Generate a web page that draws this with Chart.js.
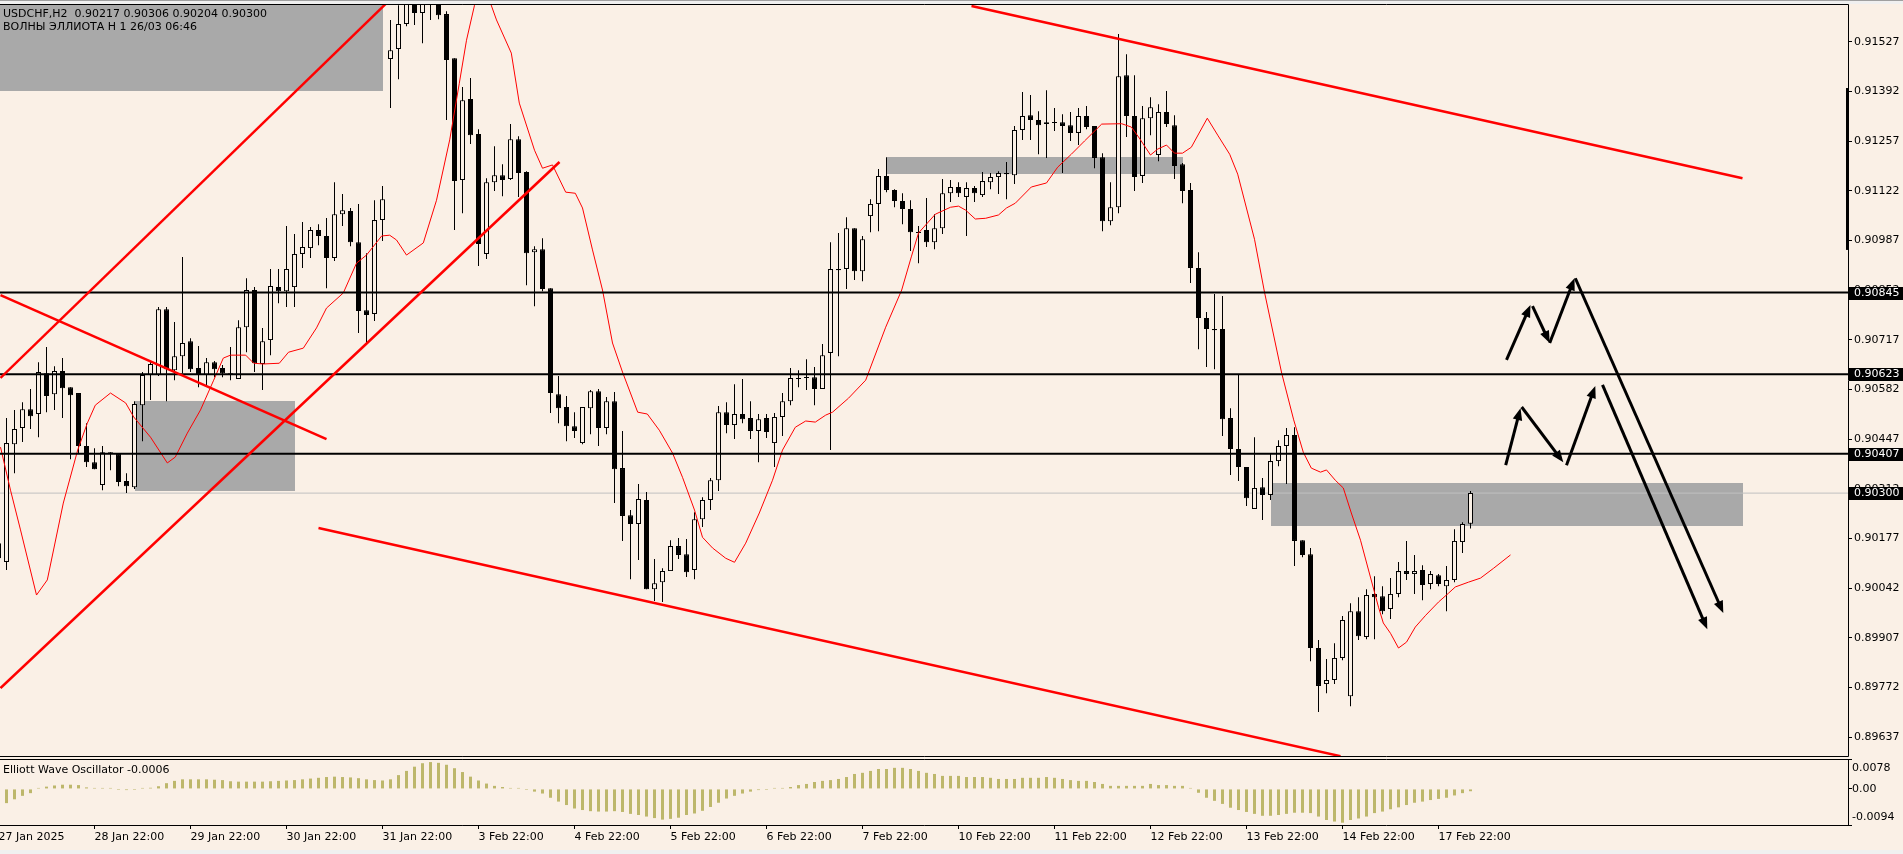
<!DOCTYPE html>
<html>
<head>
<meta charset="utf-8">
<title>USDCHF,H2</title>
<script src="https://cdn.jsdelivr.net/npm/chart.js@4.4.1/dist/chart.umd.min.js"></script>
<style>
  html, body { margin: 0; padding: 0; background: #f0f0f0; overflow: hidden; }
  #wrap { position: relative; width: 1903px; height: 854px; background: #f0f0f0; }
  canvas { position: absolute; left: 0; background: #FAF0E6; }
  #main { top: 0; }
  #osc { top: 758px; }
  #topbar { position: absolute; left: 0; top: 0; width: 1903px; height: 4px; box-sizing: border-box;
            background: #f0f0f0; border-top: 1px solid #a0a0a0; }
</style>
</head>
<body>
<div id="wrap">
  <canvas id="main" width="1903" height="758"></canvas>
  <canvas id="osc" width="1903" height="92"></canvas>
  <div id="topbar"></div>
</div>
<script>
// ---- data ----
const symbol = 'USDCHF,H2';
const subtitle = 'ВОЛНЫ ЭЛЛИОТА H 1 26/03 06:46';
const firstBar = -1; // bar index of the first entry below (27 Jan 22:00)

const openP = [0.90164,
  0.90113, 0.90433, 0.90477, 0.90528, 0.90515, 0.90626, 0.90569, 0.90632, 0.90588, 0.90572,
  0.90428, 0.90384, 0.90322, 0.90411, 0.90406, 0.90333, 0.90316, 0.90539, 0.90621, 0.90621,
  0.90800, 0.90634, 0.90672, 0.90713, 0.90640, 0.90621, 0.90656, 0.90640, 0.90626, 0.90610,
  0.90751, 0.90852, 0.90651, 0.90716, 0.90860, 0.90849, 0.90860, 0.90950, 0.90966, 0.91015,
  0.90999, 0.90939, 0.91058, 0.91067, 0.90982, 0.90797, 0.90787, 0.91042, 0.91480, 0.91507,
  0.91575, 0.91654, 0.91605, 0.91662, 0.91678, 0.91602, 0.91482, 0.91151, 0.91371, 0.91276,
  0.90950, 0.91145, 0.91164, 0.91154, 0.91262, 0.91173, 0.90955, 0.90963, 0.90857, 0.90569,
  0.90534, 0.90482, 0.90436, 0.90531, 0.90577, 0.90477, 0.90550, 0.90368, 0.90240, 0.90216,
  0.90281, 0.90039, 0.90058, 0.90088, 0.90156, 0.90134, 0.90091, 0.90229, 0.90281, 0.90335,
  0.90520, 0.90485, 0.90515, 0.90504, 0.90469, 0.90504, 0.90436, 0.90507, 0.90550, 0.90610,
  0.90613, 0.90615, 0.90583, 0.90681, 0.90909, 0.90909, 0.91020, 0.90903, 0.91053, 0.91086,
  0.91162, 0.91124, 0.91094, 0.91072, 0.91009, 0.91015, 0.90982, 0.91020, 0.91115, 0.91132,
  0.91105, 0.91129, 0.91110, 0.91145, 0.91159, 0.91170, 0.91164, 0.91287, 0.91327, 0.91314,
  0.91303, 0.91306, 0.91308, 0.91300, 0.91279, 0.91325, 0.91298, 0.91213, 0.91039, 0.91077,
  0.91436, 0.91325, 0.91162, 0.91319, 0.91219, 0.91336, 0.91300, 0.91194, 0.91124, 0.90912,
  0.90776, 0.90746, 0.90746, 0.90504, 0.90420, 0.90371, 0.90257, 0.90316, 0.90295, 0.90387,
  0.90428, 0.90458, 0.90172, 0.90134, 0.89879, 0.89781, 0.89792, 0.89852, 0.89748, 0.89979,
  0.89909, 0.90026, 0.90020, 0.89985, 0.90026, 0.90088, 0.90080, 0.90091, 0.90053, 0.90077,
  0.90047, 0.90064, 0.90167, 0.90217];

const highP = [0.90172,
  0.90504, 0.90526, 0.90547, 0.90583, 0.90656, 0.90697, 0.90645, 0.90667, 0.90588, 0.90572,
  0.90490, 0.90422, 0.90428, 0.90411, 0.90406, 0.90354, 0.90550, 0.90629, 0.90659, 0.90806,
  0.90806, 0.90765, 0.90942, 0.90721, 0.90700, 0.90667, 0.90659, 0.90648, 0.90697, 0.90770,
  0.90884, 0.90860, 0.90749, 0.90909, 0.90909, 0.91026, 0.91004, 0.91037, 0.91023, 0.91031,
  0.91048, 0.91145, 0.91113, 0.91075, 0.91086, 0.90952, 0.91096, 0.91135, 0.91586, 0.91626,
  0.91667, 0.91673, 0.91673, 0.91708, 0.91694, 0.91610, 0.91482, 0.91404, 0.91428, 0.91289,
  0.91156, 0.91243, 0.91194, 0.91303, 0.91270, 0.91175, 0.90971, 0.90993, 0.90857, 0.90618,
  0.90564, 0.90520, 0.90534, 0.90580, 0.90583, 0.90561, 0.90575, 0.90469, 0.90254, 0.90325,
  0.90303, 0.90121, 0.90096, 0.90172, 0.90178, 0.90175, 0.90248, 0.90289, 0.90341, 0.90537,
  0.90547, 0.90596, 0.90610, 0.90550, 0.90515, 0.90515, 0.90518, 0.90572, 0.90640, 0.90634,
  0.90664, 0.90643, 0.90705, 0.90982, 0.91007, 0.91050, 0.91020, 0.90999, 0.91099, 0.91181,
  0.91213, 0.91126, 0.91115, 0.91096, 0.91026, 0.91102, 0.91058, 0.91154, 0.91151, 0.91145,
  0.91145, 0.91135, 0.91173, 0.91170, 0.91175, 0.91200, 0.91298, 0.91390, 0.91382, 0.91338,
  0.91395, 0.91347, 0.91330, 0.91336, 0.91347, 0.91352, 0.91298, 0.91224, 0.91145, 0.91548,
  0.91493, 0.91436, 0.91352, 0.91376, 0.91357, 0.91393, 0.91327, 0.91197, 0.91143, 0.90955,
  0.90792, 0.90841, 0.90836, 0.90531, 0.90624, 0.90371, 0.90452, 0.90341, 0.90406, 0.90444,
  0.90477, 0.90479, 0.90172, 0.90151, 0.89901, 0.89849, 0.89892, 0.89966, 0.90001, 0.90017,
  0.90039, 0.90074, 0.90047, 0.90069, 0.90113, 0.90170, 0.90132, 0.90104, 0.90088, 0.90080,
  0.90102, 0.90202, 0.90221, 0.90306];

const lowP = [0.90104,
  0.90091, 0.90354, 0.90439, 0.90474, 0.90452, 0.90520, 0.90526, 0.90504, 0.90392, 0.90409,
  0.90371, 0.90365, 0.90308, 0.90362, 0.90319, 0.90300, 0.90311, 0.90441, 0.90553, 0.90618,
  0.90550, 0.90607, 0.90626, 0.90629, 0.90588, 0.90591, 0.90615, 0.90615, 0.90607, 0.90610,
  0.90683, 0.90629, 0.90580, 0.90675, 0.90816, 0.90806, 0.90806, 0.90912, 0.90939, 0.90974,
  0.90857, 0.90931, 0.91026, 0.90971, 0.90735, 0.90708, 0.90768, 0.90985, 0.91347, 0.91425,
  0.91569, 0.91572, 0.91523, 0.91586, 0.91588, 0.91314, 0.91015, 0.91061, 0.91249, 0.90917,
  0.90936, 0.91121, 0.91107, 0.91151, 0.91105, 0.90865, 0.90808, 0.90849, 0.90518, 0.90490,
  0.90441, 0.90450, 0.90433, 0.90460, 0.90428, 0.90460, 0.90273, 0.90170, 0.90066, 0.90118,
  0.90039, 0.90007, 0.90004, 0.90088, 0.90121, 0.90072, 0.90066, 0.90208, 0.90254, 0.90306,
  0.90463, 0.90447, 0.90490, 0.90447, 0.90384, 0.90450, 0.90371, 0.90455, 0.90539, 0.90588,
  0.90580, 0.90539, 0.90583, 0.90417, 0.90672, 0.90855, 0.90879, 0.90876, 0.91009, 0.91012,
  0.91118, 0.91077, 0.91031, 0.90958, 0.90925, 0.90969, 0.90963, 0.91004, 0.91091, 0.91105,
  0.90999, 0.91091, 0.91105, 0.91126, 0.91113, 0.91099, 0.91140, 0.91260, 0.91260, 0.91221,
  0.91211, 0.91284, 0.91170, 0.91257, 0.91246, 0.91289, 0.91183, 0.91012, 0.91028, 0.91061,
  0.91268, 0.91121, 0.91143, 0.91273, 0.91202, 0.91295, 0.91154, 0.91088, 0.90871, 0.90691,
  0.90643, 0.90637, 0.90455, 0.90349, 0.90333, 0.90265, 0.90257, 0.90227, 0.90281, 0.90373,
  0.90325, 0.90102, 0.90126, 0.89843, 0.89705, 0.89756, 0.89781, 0.89846, 0.89721, 0.89901,
  0.89903, 0.89903, 0.89971, 0.89958, 0.90017, 0.90064, 0.90026, 0.90009, 0.90039, 0.90047,
  0.89979, 0.90058, 0.90137, 0.90204];

const closeP = [0.90123,
  0.90436, 0.90474, 0.90528, 0.90509, 0.90629, 0.90564, 0.90632, 0.90585, 0.90566, 0.90428,
  0.90384, 0.90365, 0.90411, 0.90406, 0.90330, 0.90319, 0.90542, 0.90621, 0.90651, 0.90800,
  0.90637, 0.90672, 0.90708, 0.90637, 0.90621, 0.90656, 0.90637, 0.90626, 0.90623, 0.90751,
  0.90852, 0.90653, 0.90713, 0.90863, 0.90849, 0.90909, 0.90950, 0.90969, 0.91015, 0.90999,
  0.90939, 0.91058, 0.91069, 0.90982, 0.90795, 0.90784, 0.91042, 0.91099, 0.91504, 0.91575,
  0.91654, 0.91605, 0.91662, 0.91681, 0.91599, 0.91477, 0.91148, 0.91368, 0.91273, 0.90977,
  0.91145, 0.91164, 0.91151, 0.91262, 0.91170, 0.90952, 0.90963, 0.90855, 0.90572, 0.90531,
  0.90482, 0.90469, 0.90534, 0.90577, 0.90477, 0.90550, 0.90365, 0.90238, 0.90216, 0.90284,
  0.90039, 0.90055, 0.90088, 0.90156, 0.90132, 0.90085, 0.90229, 0.90281, 0.90335, 0.90520,
  0.90485, 0.90515, 0.90501, 0.90469, 0.90501, 0.90466, 0.90507, 0.90550, 0.90613, 0.90613,
  0.90615, 0.90583, 0.90675, 0.90909, 0.90906, 0.91020, 0.90903, 0.90990, 0.91086, 0.91162,
  0.91124, 0.91094, 0.91072, 0.91009, 0.91007, 0.90982, 0.91020, 0.91115, 0.91132, 0.91115,
  0.91129, 0.91115, 0.91148, 0.91159, 0.91170, 0.91167, 0.91287, 0.91325, 0.91314, 0.91300,
  0.91308, 0.91308, 0.91298, 0.91279, 0.91325, 0.91295, 0.91211, 0.91039, 0.91077, 0.91433,
  0.91325, 0.91159, 0.91319, 0.91349, 0.91336, 0.91303, 0.91189, 0.91121, 0.90912, 0.90776,
  0.90746, 0.90743, 0.90501, 0.90420, 0.90371, 0.90286, 0.90314, 0.90295, 0.90387, 0.90428,
  0.90458, 0.90170, 0.90132, 0.89879, 0.89776, 0.89792, 0.89852, 0.89955, 0.89979, 0.89911,
  0.90023, 0.90017, 0.89979, 0.90026, 0.90088, 0.90080, 0.90088, 0.90050, 0.90080, 0.90053,
  0.90064, 0.90170, 0.90216, 0.90300];

// thin red moving average (shifted forward), sampled along its path
const maBar = [-0.75, 0.5, 1.75, 3.75, 5.1, 7.1, 8.9, 10.1, 11.1, 13, 14.9, 15.9, 18, 20.1, 21.1, 22.6,
  24.25, 25.9, 27.1, 28, 29.9, 30.9, 32.1, 34.1, 35.25, 37.1, 38.75, 40, 42.1, 43.75, 45, 46.9, 47.9,
  48.75, 50, 52.1, 53.75, 55.4, 56.6, 57.5, 58.5, 60, 61.25, 63.1, 64.1, 66, 67, 68.25, 69.9, 71.1, 72,
  73.25, 74.5, 75.75, 77, 78.9, 80.1, 81.6, 83.25, 84.5, 86, 87, 88.25, 89.9, 91, 92.4, 94.1, 95.75, 97,
  98.6, 99.9, 101.1, 102.4, 103.25, 105.25, 107.4, 109.9, 111.9, 113.1, 114, 116.1, 118, 119, 119.9,
  121.1, 122.4, 124, 125, 126.1, 128.1, 130, 131.4, 133.1, 134.75, 136.9, 139.4, 140.6, 141.6, 143,
  143.9, 145, 146, 147, 148.1, 150.1, 151.4, 152.9, 153.9, 156, 157.25, 159.4, 160.9, 162.1, 163.1,
  164.25, 165, 166.1, 167.1, 168.1, 169.25, 170.25, 171.5, 172.1, 173, 174, 175, 176.1, 177.4, 179,
  180.25, 181.1, 182.75, 184.25, 185.9, 188];
const maPrice = [0.90425, 0.90308, 0.90200, 0.90023, 0.90064, 0.90273, 0.90417, 0.90490, 0.90539,
  0.90572, 0.90545, 0.90507, 0.90452, 0.90382, 0.90398, 0.90463, 0.90526, 0.90607, 0.90667, 0.90675,
  0.90675, 0.90653, 0.90651, 0.90653, 0.90683, 0.90694, 0.90749, 0.90803, 0.90844, 0.90925, 0.90947,
  0.90999, 0.91001, 0.90988, 0.90947, 0.90980, 0.91096, 0.91260, 0.91414, 0.91531, 0.91626, 0.91662,
  0.91586, 0.91496, 0.91360, 0.91232, 0.91183, 0.91192, 0.91118, 0.91115, 0.91075, 0.90961, 0.90852,
  0.90708, 0.90629, 0.90520, 0.90515, 0.90471, 0.90409, 0.90343, 0.90254, 0.90180, 0.90151, 0.90123,
  0.90112, 0.90164, 0.90246, 0.90335, 0.90417, 0.90479, 0.90496, 0.90493, 0.90512, 0.90520, 0.90558,
  0.90607, 0.90751, 0.90852, 0.90942, 0.91007, 0.91058, 0.91077, 0.91080, 0.91069, 0.91045, 0.91047,
  0.91056, 0.91075, 0.91088, 0.91132, 0.91143, 0.91186, 0.91221, 0.91257, 0.91303, 0.91304, 0.91295,
  0.91265, 0.91219, 0.91235, 0.91246, 0.91224, 0.91224, 0.91240, 0.91319, 0.91273, 0.91221, 0.91167,
  0.90990, 0.90846, 0.90626, 0.90499, 0.90411, 0.90368, 0.90357, 0.90363, 0.90335, 0.90314, 0.90246,
  0.90172, 0.90091, 0.89990, 0.89947, 0.89919, 0.89879, 0.89895, 0.89936, 0.89968, 0.90004, 0.90028,
  0.90045, 0.90058, 0.90069, 0.90096, 0.90132];

// Elliott Wave Oscillator histogram, bars 0..183
const ewo = [
  -0.0037, -0.0027, -0.0018, -0.0011, 0.0001, 0.0006, 0.0009, 0.0011, 0.0011, 0.0010,
  0.0004, 0.0002, 0.0001, 0.0001, -0.0002, -0.0003, -0.0002, 0.0001, 0.0003, 0.0007,
  0.0015, 0.0021, 0.0025, 0.0025, 0.0025, 0.0025, 0.0024, 0.0023, 0.0020, 0.0019,
  0.0019, 0.0019, 0.0019, 0.0020, 0.0021, 0.0022, 0.0023, 0.0025, 0.0027, 0.0029,
  0.0031, 0.0032, 0.0031, 0.0030, 0.0028, 0.0025, 0.0023, 0.0022, 0.0025, 0.0036,
  0.0047, 0.0058, 0.0067, 0.0070, 0.0068, 0.0063, 0.0054, 0.0044, 0.0032, 0.0022,
  0.0014, 0.0008, 0.0005, 0.0002, 0.0001, -0.0001, -0.0007, -0.0012, -0.0023, -0.0033,
  -0.0042, -0.0051, -0.0055, -0.0058, -0.0059, -0.0059, -0.0058, -0.0060, -0.0065, -0.0068,
  -0.0072, -0.0076, -0.0080, -0.0078, -0.0075, -0.0068, -0.0064, -0.0057, -0.0047, -0.0036,
  -0.0025, -0.0018, -0.0012, -0.0007, -0.0003, -0.0001, 0.0001, 0.0001, 0.0005, 0.0010,
  0.0013, 0.0018, 0.0021, 0.0023, 0.0026, 0.0031, 0.0039, 0.0042, 0.0047, 0.0052,
  0.0052, 0.0055, 0.0055, 0.0052, 0.0047, 0.0042, 0.0039, 0.0034, 0.0034, 0.0034,
  0.0031, 0.0031, 0.0031, 0.0029, 0.0026, 0.0026, 0.0026, 0.0029, 0.0029, 0.0029,
  0.0031, 0.0029, 0.0026, 0.0023, 0.0021, 0.0021, 0.0018, 0.0013, 0.0008, 0.0008,
  0.0008, 0.0008, 0.0008, 0.0013, 0.0010, 0.0010, 0.0008, 0.0008, 0.0001, -0.0010,
  -0.0023, -0.0031, -0.0039, -0.0049, -0.0055, -0.0060, -0.0065, -0.0070, -0.0070, -0.0068,
  -0.0065, -0.0062, -0.0062, -0.0063, -0.0072, -0.0081, -0.0085, -0.0088, -0.0081, -0.0077,
  -0.0072, -0.0063, -0.0059, -0.0053, -0.0048, -0.0042, -0.0036, -0.0033, -0.0029, -0.0026,
  -0.0023, -0.0017, -0.0011, -0.0006];

// axis ticks
const priceTicks = [0.89637, 0.89772, 0.89907, 0.90042, 0.90177, 0.90312, 0.90447, 0.90582,
  0.90717, 0.90852, 0.90987, 0.91122, 0.91257, 0.91392, 0.91527];
const oscTicks = [0.0078, 0, -0.0094];
const oscTickLabels = ['0.0078', '0.00', '-0.0094'];
const dateTickBars = [-1, 11, 23, 35, 47, 59, 71, 83, 95, 107, 119, 131, 143, 155, 167, 179];
const dateTickLabels = ['27 Jan 2025', '28 Jan 22:00', '29 Jan 22:00', '30 Jan 22:00', '31 Jan 22:00',
  '3 Feb 22:00', '4 Feb 22:00', '5 Feb 22:00', '6 Feb 22:00', '7 Feb 22:00', '10 Feb 22:00',
  '11 Feb 22:00', '12 Feb 22:00', '13 Feb 22:00', '14 Feb 22:00', '17 Feb 22:00'];

// drawn objects (bar index / price)
const levels = [0.90845, 0.90623, 0.90407];
const lastPrice = 0.90300;
const trendLines = [
  [-0.75, 0.90613, 47.375, 0.91629],
  [-0.75, 0.89770, 69.125, 0.91200],
  [-0.75, 0.90838, 40, 0.90447],
  [120.625, 0.91624, 217, 0.91156],
  [39, 0.90205, 166.75, 0.89585]];
const zones = [            // [bar from, price top, bar to, price bottom]
  [-2, 0.91700, 47, 0.91392],
  [16, 0.90550, 36, 0.90306],
  [110, 0.91213, 147, 0.91167],
  [158, 0.90328, 217, 0.90211]];
const arrows = [           // [bar0, price0, bar1, price1], head at the second point
  [187.5, 0.90662, 190.5, 0.90811],
  [190.75, 0.90808, 192.9, 0.90708],
  [192.9, 0.90708, 196, 0.90884],
  [196.1, 0.90884, 214.6, 0.89974],
  [187.4, 0.90376, 189.25, 0.90531],
  [189.4, 0.90534, 194.6, 0.90384],
  [195, 0.90376, 198.6, 0.90591],
  [199.5, 0.90594, 212.6, 0.89930]];
const sideBar = [0.91401, 0.90961];

// visible ranges
const X_MIN = -0.8125, X_MAX = 230.1875;
const Y_MIN = 0.895855, Y_MAX = 0.916294;
const OSC_MIN = -0.0094, OSC_MAX = 0.0078;

const BG = '#FAF0E6';
const FONT = '11px "DejaVu Sans"';
Chart.defaults.font.family = '"DejaVu Sans"';
Chart.defaults.font.size = 11;
Chart.defaults.color = '#000';

const bars = openP.map((_, i) => firstBar + i);
const last = openP.length - 1;

function segment(x0, y0, x1, y1, color, width, order) {
  return {
    type: 'line', data: [{ x: x0, y: y0 }, { x: x1, y: y1 }],
    borderColor: color, borderWidth: width, pointRadius: 0, order: order
  };
}

const datasets = [
  {
    type: 'bar', label: 'wick', order: 10, grouped: false, barThickness: 1, inflateAmount: 0,
    data: bars.map((b, i) => ({ x: b, y: [lowP[i], highP[i]] })),
    backgroundColor: '#000', borderWidth: 0
  },
  {
    type: 'bar', label: 'body', order: 9, grouped: false, barThickness: 5, inflateAmount: 0,
    minBarLength: 1, borderSkipped: false, borderWidth: 1, borderColor: '#000',
    data: bars.map((b, i) => ({ x: b, y: [openP[i], closeP[i]] })),
    backgroundColor: bars.map((b, i) => closeP[i] >= openP[i] ? BG : '#000')
  },
  {
    type: 'line', label: 'ma', order: 6, borderColor: '#ff0000', borderWidth: 1, pointRadius: 0,
    data: maBar.map((b, i) => ({ x: b, y: maPrice[i] }))
  },
  segment(X_MIN, lastPrice, X_MAX, lastPrice, '#c0c0c0', 1, 11)
];
levels.forEach(v => datasets.push(segment(X_MIN, v, X_MAX, v, '#000', 2, 5)));
trendLines.forEach(t => datasets.push(segment(t[0], t[1], t[2], t[3], '#ff0000', 2.5, 4)));

const mainPlugin = {
  id: 'mainDecor',
  beforeDatasetsDraw(chart) {
    const { ctx, chartArea: a, scales: { x, y } } = chart;
    ctx.save();
    ctx.beginPath();
    ctx.rect(a.left, a.top, a.right - a.left, a.bottom - a.top);
    ctx.clip();
    ctx.fillStyle = '#a9a9a9';
    zones.forEach(z => {
      const l = Math.round(x.getPixelForValue(z[0])), r = Math.round(x.getPixelForValue(z[2]));
      const t = Math.round(y.getPixelForValue(z[1])), b = Math.round(y.getPixelForValue(z[3]));
      ctx.fillRect(l, t, r - l, b - t);
    });
    ctx.restore();
  },
  afterDatasetsDraw(chart) {
    const { ctx, chartArea: a, scales: { x, y } } = chart;
    ctx.save();
    // arrows
    ctx.strokeStyle = '#000';
    ctx.fillStyle = '#000';
    ctx.lineWidth = 3;
    arrows.forEach(r => {
      const x0 = x.getPixelForValue(r[0]), y0 = y.getPixelForValue(r[1]);
      const x1 = x.getPixelForValue(r[2]), y1 = y.getPixelForValue(r[3]);
      const ang = Math.atan2(y1 - y0, x1 - x0);
      const len = 13, spread = 0.38;
      ctx.beginPath();
      ctx.moveTo(x0, y0);
      ctx.lineTo(x1 - 8 * Math.cos(ang), y1 - 8 * Math.sin(ang));
      ctx.stroke();
      ctx.beginPath();
      ctx.moveTo(x1, y1);
      ctx.lineTo(x1 - len * Math.cos(ang - spread), y1 - len * Math.sin(ang - spread));
      ctx.lineTo(x1 - len * Math.cos(ang + spread), y1 - len * Math.sin(ang + spread));
      ctx.closePath();
      ctx.fill();
    });
    // frame
    ctx.lineWidth = 1;
    ctx.beginPath();
    ctx.moveTo(a.left, a.top + 0.5);
    ctx.lineTo(a.right + 0.5, a.top + 0.5);
    ctx.lineTo(a.right + 0.5, a.bottom + 0.5);
    ctx.lineTo(a.left, a.bottom + 0.5);
    ctx.stroke();
    // scale marker on the right edge
    const t = y.getPixelForValue(sideBar[0]), b = y.getPixelForValue(sideBar[1]);
    ctx.fillRect(a.right - 2, t, 3, b - t);
    // header text
    ctx.font = FONT;
    ctx.textBaseline = 'middle';
    ctx.textAlign = 'left';
    ctx.fillStyle = '#000';
    const ohlc = [openP[last], highP[last], lowP[last], closeP[last]].map(v => v.toFixed(5)).join(' ');
    ctx.fillText(symbol + '  ' + ohlc, 3, a.top + 10);
    ctx.fillText(subtitle, 3, a.top + 23);
    ctx.restore();
  },
  afterDraw(chart) {
    const { ctx, chartArea: a, scales: { y } } = chart;
    ctx.save();
    ctx.font = FONT;
    ctx.textBaseline = 'middle';
    ctx.textAlign = 'left';
    levels.concat([lastPrice]).forEach(v => {
      const py = Math.round(y.getPixelForValue(v));
      ctx.fillStyle = '#000';
      ctx.fillRect(a.right + 1, py - 6, chart.width - a.right - 1, 13);
      ctx.fillStyle = '#fff';
      ctx.fillText(v.toFixed(5), a.right + 6, py + 0.5);
    });
    ctx.restore();
  }
};

new Chart(document.getElementById('main'), {
  type: 'bar',
  data: { datasets: datasets },
  options: {
    responsive: false,
    animation: false,
    devicePixelRatio: 1,
    layout: { padding: { top: 4, bottom: 2, left: 0, right: 0 } },
    plugins: { legend: { display: false }, tooltip: { enabled: false } },
    scales: {
      x: { type: 'linear', display: false, min: X_MIN, max: X_MAX, offset: false, bounds: 'data' },
      y: {
        type: 'linear', position: 'right', min: Y_MIN, max: Y_MAX, beginAtZero: false, bounds: 'data',
        afterBuildTicks: s => { s.ticks = priceTicks.map(v => ({ value: v })); },
        afterFit: s => { s.width = 55; s.paddingTop = 0; s.paddingBottom = 0; },
        ticks: { callback: v => v.toFixed(5), color: '#000', padding: 2, autoSkip: false },
        grid: { drawOnChartArea: false, drawTicks: true, tickLength: 4, color: '#000' },
        border: { display: false }
      }
    }
  },
  plugins: [mainPlugin]
});

const oscPlugin = {
  id: 'oscDecor',
  afterDraw(chart) {
    const { ctx, chartArea: a, scales: { y } } = chart;
    ctx.save();
    ctx.strokeStyle = '#000';
    ctx.lineWidth = 1;
    ctx.beginPath();
    ctx.moveTo(a.left, a.top + 0.5);
    ctx.lineTo(a.right + 0.5, a.top + 0.5);
    ctx.lineTo(a.right + 0.5, a.bottom + 0.5);
    ctx.lineTo(a.left, a.bottom + 0.5);
    ctx.stroke();
    ctx.font = FONT;
    ctx.fillStyle = '#000';
    ctx.textBaseline = 'middle';
    ctx.textAlign = 'left';
    ctx.fillText('Elliott Wave Oscillator ' + ewo[ewo.length - 1].toFixed(4), 3, a.top + 11);
    const shift = [9, 0, -8];
    oscTicks.forEach((v, i) => {
      ctx.fillText(oscTickLabels[i], a.right + 4, y.getPixelForValue(v) + shift[i]);
    });
    ctx.restore();
  }
};

new Chart(document.getElementById('osc'), {
  type: 'bar',
  data: {
    datasets: [{
      data: ewo.map((v, i) => ({ x: i, y: v })),
      backgroundColor: '#bdb76b', barThickness: 3, minBarLength: 1, grouped: false,
      inflateAmount: 0, borderWidth: 0
    }]
  },
  options: {
    responsive: false,
    animation: false,
    devicePixelRatio: 1,
    layout: { padding: { top: 1, bottom: 0, left: 0, right: 0 } },
    plugins: { legend: { display: false }, tooltip: { enabled: false } },
    scales: {
      x: {
        type: 'linear', min: X_MIN, max: X_MAX, offset: false, bounds: 'data',
        afterBuildTicks: s => { s.ticks = dateTickBars.map(v => ({ value: v })); },
        afterFit: s => { s.height = 25; s.paddingLeft = 0; s.paddingRight = 0; },
        ticks: {
          autoSkip: false, maxRotation: 0, minRotation: 0, align: 'start', padding: 2, color: '#000',
          callback: (v, i) => dateTickLabels[i]
        },
        grid: { drawOnChartArea: false, drawTicks: true, tickLength: 4, color: '#000', offset: false },
        border: { display: false }
      },
      y: {
        type: 'linear', position: 'right', min: OSC_MIN, max: OSC_MAX, beginAtZero: false, bounds: 'data',
        afterBuildTicks: s => { s.ticks = oscTicks.map(v => ({ value: v })); },
        afterFit: s => { s.width = 55; s.paddingTop = 0; s.paddingBottom = 0; },
        ticks: { display: false },
        grid: { drawOnChartArea: false, drawTicks: true, tickLength: 4, color: '#000' },
        border: { display: false }
      }
    }
  },
  plugins: [oscPlugin]
});
</script>
</body>
</html>
